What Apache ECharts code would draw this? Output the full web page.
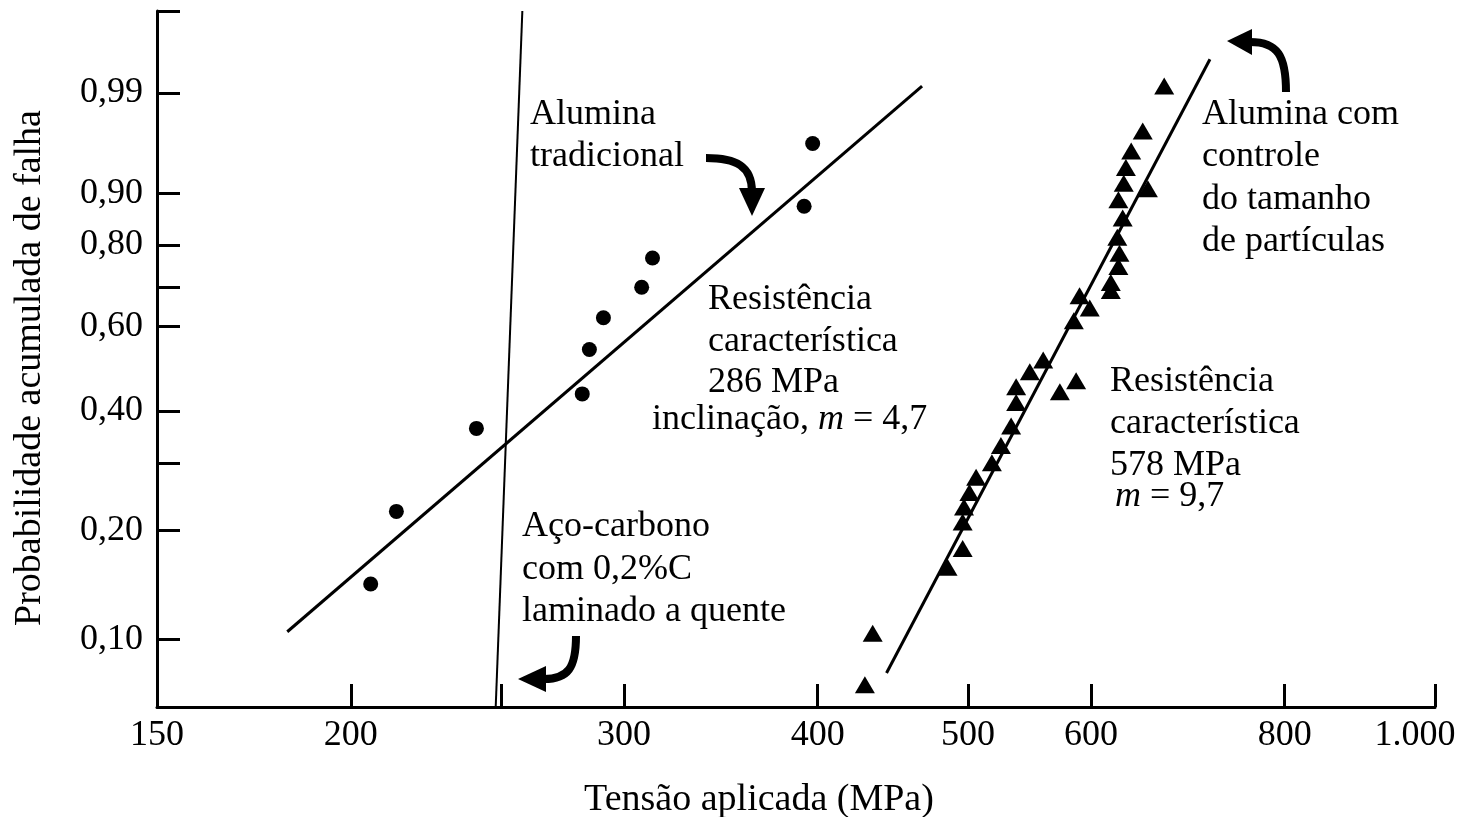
<!DOCTYPE html>
<html><head><meta charset="utf-8">
<script src="https://cdn.jsdelivr.net/npm/echarts@6/dist/echarts.min.js"></script>
<style>html,body{margin:0;padding:0;background:#fff}#c{width:1461px;height:817px}</style>
</head><body><div id="c"></div>
<script>
// ---------- data (stress in MPa, cumulative probability of failure) ----------
const X_TICKS = [150, 200, 250, 300, 400, 500, 600, 800, 1000];
const X_LABEL_VALUES = [150, 200, 300, 400, 500, 600, 800, 1000];
const X_LABEL_TEXT = ['150', '200', '300', '400', '500', '600', '800', '1.000'];
const Y_TICKS = [0.10, 0.20, 0.30, 0.40, 0.60, 0.70, 0.80, 0.90, 0.99];
const Y_LABEL_VALUES = [0.10, 0.20, 0.40, 0.60, 0.80, 0.90, 0.99];
const Y_LABEL_TEXT = ['0,10', '0,20', '0,40', '0,60', '0,80', '0,90', '0,99'];
const X_RANGE = [150, 1000];
const Y_RANGE = [0.0638, 0.9997];

const traditional = [
  [206, 0.143], [214, 0.225], [241, 0.364], [282, 0.437], [285, 0.542],
  [291, 0.622], [308, 0.699], [313, 0.770], [392, 0.878], [397, 0.961]
];
const traditionalFit = [[182, 0.105], [467, 0.992]];

const controlled = [
  [429, 0.074], [434, 0.104], [485, 0.159], [496, 0.179], [496, 0.211],
  [497, 0.231], [501, 0.252], [506, 0.276], [518, 0.300], [525, 0.331],
  [533, 0.369], [537, 0.418], [537, 0.453], [548, 0.488], [559, 0.516],
  [573, 0.442], [587, 0.467], [585, 0.614], [599, 0.647], [590, 0.678],
  [618, 0.691], [618, 0.711], [625, 0.750], [626, 0.781], [624, 0.817],
  [629, 0.856], [625, 0.889], [653, 0.907], [630, 0.915], [632, 0.936],
  [637, 0.954], [648, 0.971], [669, 0.992]
];
const controlledFit = [[443, 0.080], [716, 0.997]];

const steel = [[248, 0.0638], [258, 0.9997]];

// ---------- scales: log10 stress, Weibull probability ----------
const tx = v => Math.log10(v);
const ty = p => Math.log(-Math.log(1 - p));
const pt = d => [tx(d[0]), ty(d[1])];

const FONT = 'Liberation Serif';
const FS = 36;

function findLabel(v, vals, texts, f) {
  for (let i = 0; i < vals.length; i++) if (Math.abs(f(vals[i]) - v) < 1e-6) return texts[i];
  return '';
}

const chart = echarts.init(document.getElementById('c'));
const txt = (x, y, text, extra, props) => Object.assign({
  type: 'text', x: x, y: y, z: 100,
  style: Object.assign({ text: text, fontFamily: FONT, fontSize: FS, fill: '#000',
    align: 'left', verticalAlign: 'middle' }, extra || {})
}, props || {});
const arrowStyle = { stroke: '#000', lineWidth: 8, fill: null };

chart.setOption({
  animation: false,
  backgroundColor: '#fff',
  grid: { left: 157, right: 26, top: 11, bottom: 110, outerBoundsMode: 'none' },
  xAxis: {
    type: 'value', min: tx(X_RANGE[0]), max: tx(X_RANGE[1]),
    axisLine: { show: true, onZero: false, lineStyle: { color: '#000', width: 3 } },
    axisTick: { show: true, inside: true, length: 23, customValues: X_TICKS.map(tx),
      lineStyle: { color: '#000', width: 3 } },
    axisLabel: { show: true, margin: 11, customValues: X_LABEL_VALUES.map(tx),
      fontFamily: FONT, fontSize: FS, color: '#000',
      formatter: v => {
        const s = findLabel(v, X_LABEL_VALUES, X_LABEL_TEXT, tx);
        return v > 2.999 ? '{last|' + s + '}' : s;
      },
      rich: { last: { fontFamily: FONT, fontSize: FS, color: '#000', padding: [0, 40, 0, 0] } } },
    splitLine: { show: false }
  },
  yAxis: {
    type: 'value', min: ty(Y_RANGE[0]), max: ty(Y_RANGE[1]),
    axisLine: { show: true, onZero: false, lineStyle: { color: '#000', width: 3 } },
    axisTick: { show: true, inside: true, length: 23,
      customValues: Y_TICKS.map(ty).concat([ty(Y_RANGE[1])]),
      lineStyle: { color: '#000', width: 3 } },
    axisLabel: { show: true, margin: 14, customValues: Y_LABEL_VALUES.map(ty),
      fontFamily: FONT, fontSize: FS, color: '#000',
      formatter: v => findLabel(v, Y_LABEL_VALUES, Y_LABEL_TEXT, ty) },
    splitLine: { show: false }
  },
  series: [
    { type: 'line', data: steel.map(pt), symbol: 'none', lineStyle: { color: '#000', width: 2 }, z: 2 },
    { type: 'line', data: traditionalFit.map(pt), symbol: 'none', lineStyle: { color: '#000', width: 3 }, z: 2 },
    { type: 'line', data: controlledFit.map(pt), symbol: 'none', lineStyle: { color: '#000', width: 3 }, z: 2 },
    { type: 'scatter', data: traditional.map(pt), symbol: 'circle', symbolSize: 15,
      itemStyle: { color: '#000', opacity: 1 }, z: 3 },
    { type: 'scatter', data: controlled.map(pt), symbol: 'triangle', symbolSize: [20, 17],
      itemStyle: { color: '#000', opacity: 1 }, z: 3 }
  ],
  graphic: [
    txt(30, 368, 'Probabilidade acumulada de falha', { align: 'center', fontSize: 38 }, { rotation: Math.PI / 2 }),
    txt(759, 800, 'Tensão aplicada (MPa)', { align: 'center', fontSize: 38 }),
    txt(530, 115, 'Alumina'),
    txt(530, 157, 'tradicional'),
    txt(708, 300, 'Resistência'),
    txt(708, 342, 'característica'),
    txt(708, 383, '286 MPa'),
    { type: 'text', x: 652, y: 420, z: 100, style: { text: 'inclinação, {i|m} = 4,7',
      fontFamily: FONT, fontSize: FS, fill: '#000', align: 'left', verticalAlign: 'middle',
      rich: { i: { fontStyle: 'italic', fontFamily: FONT, fontSize: FS } } } },
    txt(522, 527, 'Aço-carbono'),
    txt(522, 570, 'com 0,2%C'),
    txt(522, 612, 'laminado a quente'),
    txt(1202, 115, 'Alumina com'),
    txt(1202, 157, 'controle'),
    txt(1202, 200, 'do tamanho'),
    txt(1202, 242, 'de partículas'),
    txt(1110, 382, 'Resistência'),
    txt(1110, 424, 'característica'),
    txt(1110, 466, '578 MPa'),
    { type: 'text', x: 1115, y: 497, z: 100, style: { text: '{i|m} = 9,7',
      fontFamily: FONT, fontSize: FS, fill: '#000', align: 'left', verticalAlign: 'middle',
      rich: { i: { fontStyle: 'italic', fontFamily: FONT, fontSize: FS } } } },
    // arrows
    { type: 'bezierCurve', z: 100, shape: { x1: 706, y1: 158, cpx1: 736, cpy1: 158, cpx2: 752, cpy2: 166, x2: 752, y2: 192 }, style: arrowStyle },
    { type: 'polygon', z: 100, shape: { points: [[739, 188], [765, 188], [752, 216]] }, style: { fill: '#000' } },
    { type: 'bezierCurve', z: 100, shape: { x1: 1286, y1: 92, cpx1: 1286, cpy1: 56, cpx2: 1278, cpy2: 42, x2: 1250, y2: 42 }, style: arrowStyle },
    { type: 'polygon', z: 100, shape: { points: [[1252, 29], [1252, 55], [1227, 41]] }, style: { fill: '#000' } },
    { type: 'bezierCurve', z: 100, shape: { x1: 576, y1: 636, cpx1: 576, cpy1: 668, cpx2: 568, cpy2: 679, x2: 544, y2: 679 }, style: arrowStyle },
    { type: 'polygon', z: 100, shape: { points: [[546, 666], [546, 692], [518, 679]] }, style: { fill: '#000' } }
  ]
});
</script></body></html>
